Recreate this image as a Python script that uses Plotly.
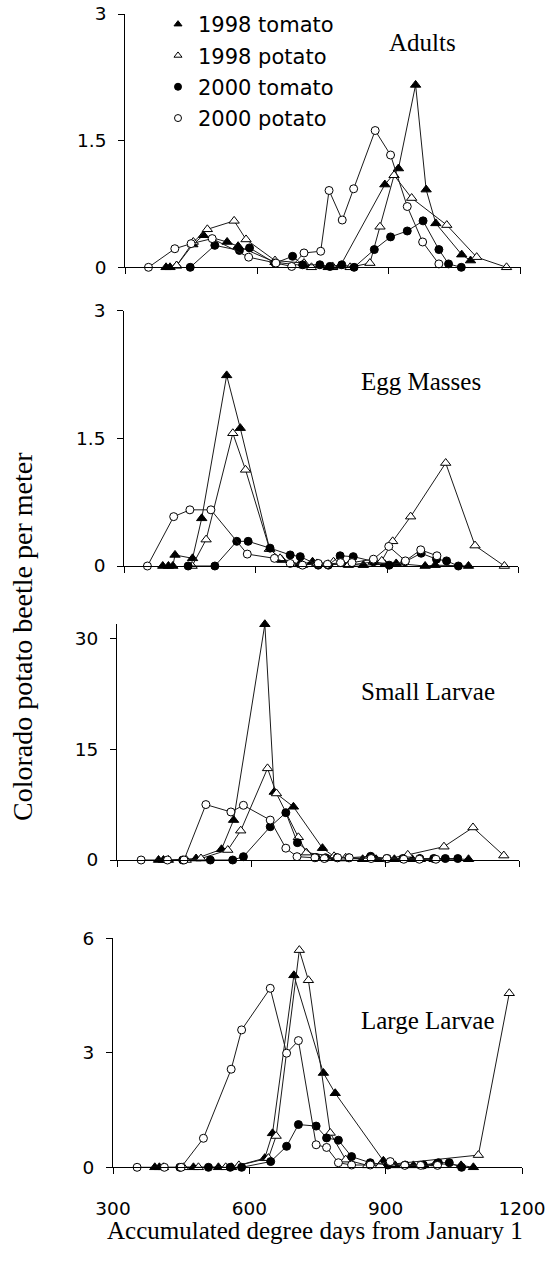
import plotly.graph_objects as go

# ---------------- data ----------------
# Panel 1: Adults
ad_t98_x = [393, 402, 417, 454, 478, 532, 557, 641, 707, 762, 772, 790, 891, 922, 961, 985, 1007, 1066, 1086]
ad_t98_y = [0, 0, 0.02, 0.27, 0.38, 0.30, 0.25, 0.06, 0.02, 0, 0, 0.02, 0.98, 1.17, 2.16, 0.92, 0.52, 0.15, 0.08]
ad_p98_x = [417, 455, 487, 548, 575, 641, 707, 724, 772, 812, 857, 880, 912, 952, 1032, 1100, 1168]
ad_p98_y = [0.02, 0.30, 0.45, 0.55, 0.33, 0.08, 0.05, 0, 0.01, 0, 0.05, 0.48, 1.09, 0.82, 0.50, 0.12, 0]
ad_t00_x = [448, 504, 560, 583, 641, 681, 704, 743, 766, 793, 821, 867, 904, 942, 978, 1014, 1036, 1065]
ad_t00_y = [0, 0.26, 0.20, 0.23, 0.05, 0.13, 0.03, 0.03, 0.01, 0.03, 0, 0.21, 0.36, 0.43, 0.55, 0.21, 0.04, 0]
ad_p00_x = [353, 413, 450, 498, 581, 643, 679, 707, 745, 764, 794, 820, 869, 904, 942, 977, 1014]
ad_p00_y = [0, 0.22, 0.28, 0.34, 0.12, 0.05, 0.01, 0.17, 0.19, 0.91, 0.56, 0.93, 1.62, 1.33, 0.72, 0.30, 0.04]

# Panel 2: Egg Masses
eg_t98_x = [388, 401, 411, 416, 456, 477, 534, 565, 632, 660, 700, 730, 766, 800, 846, 895, 921, 987, 1010, 1086]
eg_t98_y = [0, 0, 0, 0.13, 0.09, 0.56, 2.24, 1.62, 0.20, 0.07, 0.02, 0.05, 0.02, 0.02, 0.01, 0.02, 0.03, 0, 0.01, 0]
eg_p98_x = [455, 487, 548, 577, 632, 656, 707, 740, 778, 812, 869, 888, 913, 954, 1034, 1101, 1168]
eg_p98_y = [0, 0.31, 1.56, 1.13, 0.20, 0.09, 0.01, 0.03, 0.05, 0.01, 0.05, 0.06, 0.29, 0.58, 1.21, 0.24, 0]
eg_t00_x = [446, 507, 557, 583, 633, 679, 702, 743, 766, 793, 823, 869, 905, 941, 978, 1013, 1036, 1063]
eg_t00_y = [0, 0, 0.29, 0.29, 0.21, 0.13, 0.11, 0.01, 0.01, 0.12, 0.11, 0.05, 0.01, 0.05, 0.15, 0.08, 0.06, 0]
eg_p00_x = [353, 413, 450, 498, 581, 643, 679, 707, 743, 764, 794, 820, 869, 904, 942, 977, 1014]
eg_p00_y = [0, 0.58, 0.66, 0.66, 0.14, 0.09, 0.03, 0.01, 0.03, 0.02, 0.04, 0.04, 0.08, 0.23, 0.06, 0.19, 0.12]

# Panel 3: Small Larvae
sl_t98_x = [393, 404, 415, 477, 534, 561, 631, 652, 695, 760, 790, 812, 850, 880, 921, 961, 979, 1010, 1087]
sl_t98_y = [0, 0, 0, 0.2, 1.45, 5.4, 31.9, 9.2, 7.2, 1.6, 0.3, 0.2, 0.1, 0.1, 0.1, 0.1, 0.1, 0.1, 0.1]
sl_p98_x = [455, 488, 548, 577, 637, 657, 706, 724, 786, 812, 860, 900, 951, 1032, 1097, 1166]
sl_p98_y = [0, 0.2, 1.35, 3.97, 12.4, 9.0, 3.07, 1.0, 0.5, 0.3, 0.1, 0.1, 0.7, 1.8, 4.4, 0.6]
sl_t00_x = [447, 509, 559, 583, 643, 678, 704, 745, 767, 793, 819, 868, 905, 940, 978, 1009, 1035, 1063]
sl_t00_y = [0, 0, 0, 0.45, 4.5, 6.4, 2.35, 0.35, 0.3, 0.3, 0.3, 0.5, 0.2, 0.2, 0.2, 0.2, 0.2, 0.2]
sl_p00_x = [354, 413, 450, 499, 555, 583, 643, 678, 703, 743, 764, 794, 820, 869, 904, 942, 977, 1014]
sl_p00_y = [0, 0, 0, 7.5, 6.5, 7.4, 5.4, 1.6, 0.45, 0.3, 0.2, 0.3, 0.3, 0.2, 0.2, 0.1, 0.1, 0.1]

# Panel 4: Large Larvae
ll_t98_x = [392, 402, 411, 477, 532, 561, 634, 651, 698, 763, 789, 895, 921, 961, 985, 1010, 1066, 1093]
ll_t98_y = [0, 0, 0, 0, 0, 0, 0.24, 0.89, 5.03, 2.47, 1.94, 0.17, 0.05, 0.05, 0.05, 0.1, 0.05, 0]
ll_p98_x = [455, 488, 548, 577, 642, 659, 710, 730, 778, 812, 860, 888, 912, 1104, 1172]
ll_p98_y = [0, 0, 0, 0.05, 0.24, 0.82, 5.69, 4.9, 0.9, 0.2, 0.05, 0.05, 0.08, 0.32, 4.56]
ll_t00_x = [447, 510, 558, 583, 647, 682, 708, 747, 770, 796, 825, 866, 905, 943, 983, 1016, 1040, 1067]
ll_t00_y = [0, 0, 0, 0, 0.15, 0.55, 1.12, 1.08, 0.77, 0.71, 0.28, 0.12, 0.06, 0.06, 0.06, 0.12, 0.12, 0]
ll_p00_x = [353, 413, 450, 499, 560, 583, 646, 682, 708, 747, 770, 796, 825, 866, 910, 942, 977, 1014]
ll_p00_y = [0, 0, 0, 0.76, 2.57, 3.6, 4.69, 2.99, 3.32, 0.59, 0.52, 0.12, 0.06, 0.06, 0.15, 0.05, 0.05, 0.05]

series_names = ["1998 tomato", "1998 potato", "2000 tomato", "2000 potato"]
panel_titles = ["Adults", "Egg Masses", "Small Larvae", "Large Larvae"]
y_tickvals = [[0, 1.5, 3], [0, 1.5, 3], [0, 15, 30], [0, 3, 6]]
y_ticktext = [["0", "1.5", "3"], ["0", "1.5", "3"], ["0", "15", "30"], ["0", "3", "6"]]
y_ranges = [[0, 3], [0, 3], [0, 32], [0, 6]]
x_tickvals = [300, 600, 900, 1200]
x_title = "Accumulated degree days from January 1"
y_title = "Colorado potato beetle per meter"

panels = [
    [(ad_t98_x, ad_t98_y), (ad_p98_x, ad_p98_y), (ad_t00_x, ad_t00_y), (ad_p00_x, ad_p00_y)],
    [(eg_t98_x, eg_t98_y), (eg_p98_x, eg_p98_y), (eg_t00_x, eg_t00_y), (eg_p00_x, eg_p00_y)],
    [(sl_t98_x, sl_t98_y), (sl_p98_x, sl_p98_y), (sl_t00_x, sl_t00_y), (sl_p00_x, sl_p00_y)],
    [(ll_t98_x, ll_t98_y), (ll_p98_x, ll_p98_y), (ll_t00_x, ll_t00_y), (ll_p00_x, ll_p00_y)],
]

# ---------------- styling / layout ----------------
# The page body margin is removed (post_script below), so the figure fills the
# whole 558x1269 window and page pixels map directly onto the figure.
W, H = 558, 1269


def px(x):
    return x / W


def py(y):
    return 1 - y / H


# page-pixel boxes for each panel: (x_left, x_right, y_top, y_bottom)
boxes = [
    (125.2, 520.6, 14.0, 267.3),
    (124.2, 518.4, 310.7, 566.0),
    (117.0, 519.0, 623.5, 860.0),
    (113.0, 522.0, 938.3, 1167.3),
]
title_pos = [(422, 42), (421, 381), (428, 691), (427, 1020)]

marker_styles = [
    dict(symbol="triangle-up", size=9, color="black", line=dict(color="black", width=1)),
    dict(symbol="triangle-up", size=9, color="white", line=dict(color="black", width=1)),
    dict(symbol="circle", size=8, color="black", line=dict(color="black", width=1)),
    dict(symbol="circle", size=8, color="white", line=dict(color="black", width=1)),
]

fig = go.Figure()
tick_font = dict(family="DejaVu Sans", size=18.5, color="black")
serif = "Liberation Serif, Times New Roman, serif"

for p, series in enumerate(panels):
    sfx = "" if p == 0 else str(p + 1)
    for s, (xs, ys) in enumerate(series):
        fig.add_trace(go.Scatter(
            x=xs, y=ys, mode="lines+markers",
            line=dict(color="#1a1a1a", width=1),
            marker=marker_styles[s],
            xaxis="x" + sfx, yaxis="y" + sfx,
            showlegend=False, cliponaxis=False, hoverinfo="skip",
        ))
    xl, xr, yt, yb = boxes[p]
    common = dict(showline=True, linecolor="black", linewidth=1, showgrid=False,
                  zeroline=False, ticks="outside", tickcolor="black", ticklen=6,
                  tickwidth=1, tickfont=tick_font, automargin=False,
                  ticklabeloverflow="allow")
    fig.update_layout(**{
        "xaxis" + sfx: dict(common, domain=[px(xl), px(xr)], range=[300, 1200],
                            tickvals=x_tickvals, showticklabels=(p == 3),
                            anchor="y" + sfx, ticklabelstandoff=18),
        "yaxis" + sfx: dict(common, domain=[py(yb), py(yt)], range=y_ranges[p],
                            tickvals=y_tickvals[p], ticktext=y_ticktext[p],
                            anchor="x" + sfx, ticklabelstandoff=8),
    })
    tx, ty = title_pos[p]
    fig.add_annotation(x=px(tx), y=py(ty), xref="paper", yref="paper",
                       text=panel_titles[p], showarrow=False,
                       xanchor="center", yanchor="middle",
                       font=dict(family=serif, size=25, color="black"))

# legend entries (marker only)
for s, name in enumerate(series_names):
    fig.add_trace(go.Scatter(x=[None], y=[None], mode="markers", name=name,
                             marker=dict(marker_styles[s], size=7),
                             legendgroup=name, showlegend=True))

fig.add_annotation(x=px(315), y=py(1230), xref="paper", yref="paper",
                   text=x_title, showarrow=False, xanchor="center", yanchor="middle",
                   font=dict(family=serif, size=25, color="black"))
fig.add_annotation(x=px(23), y=py(637), xref="paper", yref="paper",
                   text=y_title, showarrow=False, textangle=-90,
                   xanchor="center", yanchor="middle", borderpad=0,
                   font=dict(family=serif, size=28, color="black"))

fig.update_layout(
    width=W, height=H,
    margin=dict(l=0, r=0, t=0, b=0, pad=0, autoexpand=False),
    paper_bgcolor="white", plot_bgcolor="white",
    hovermode=False,
    legend=dict(x=px(158), y=py(4), xanchor="left", yanchor="top",
                font=dict(family="DejaVu Sans", size=21, color="black"),
                bgcolor="rgba(0,0,0,0)", traceorder="grouped", tracegroupgap=1,
                itemwidth=30),
)

fig.write_html("out.html",
               config={"displayModeBar": False},
               post_script="document.body.style.margin='0px';"
                           "document.body.style.overflow='hidden';")
